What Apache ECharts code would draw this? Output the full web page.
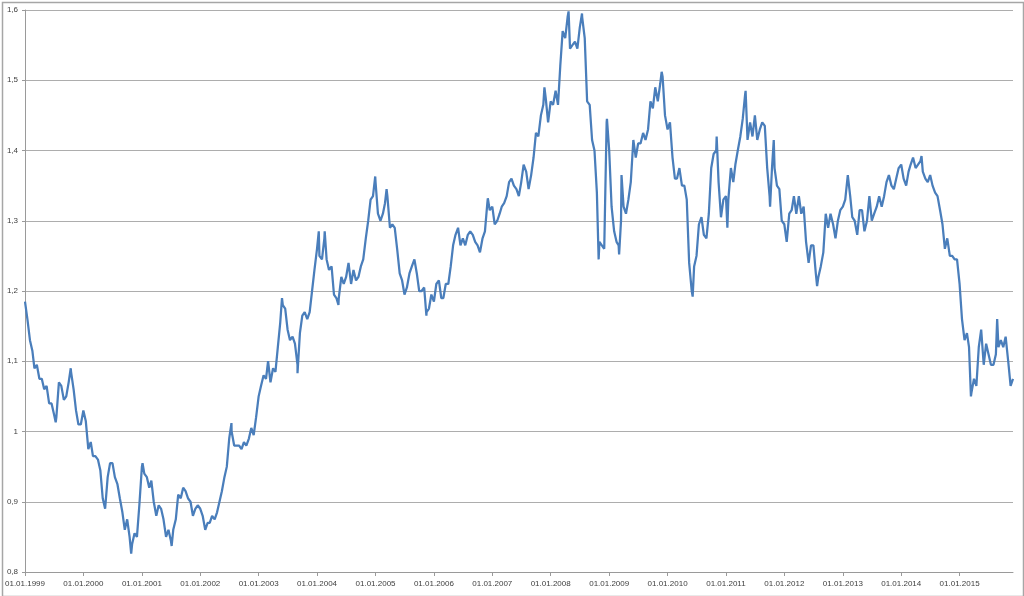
<!DOCTYPE html>
<html><head><meta charset="utf-8">
<script src="https://cdn.jsdelivr.net/npm/echarts@6/dist/echarts.min.js"></script>
<style>html,body{margin:0;padding:0;background:#fff}#c{width:1024px;height:596px}</style>
</head><body><div id="c"></div>
<script>
// EUR/USD readings, 1st and 16th of each month
const y1999 = [1.185,1.16,1.13,1.115,1.09,1.095,1.075,1.075,1.06,1.065,1.04,1.04,1.025,1.02,1.07,1.065,1.045,1.05,1.07,1.085,1.06,1.03,1.01,1.01];
const y2000 = [1.03,1.015,0.975,0.985,0.965,0.965,0.96,0.945,0.905,0.89,0.935,0.955,0.955,0.935,0.925,0.905,0.885,0.86,0.875,0.85,0.84,0.855,0.85,0.895];
const y2001 = [0.95,0.94,0.935,0.92,0.93,0.90,0.88,0.895,0.89,0.875,0.85,0.86,0.845,0.86,0.875,0.91,0.905,0.92,0.915,0.905,0.90,0.88,0.89,0.895];
const y2002 = [0.89,0.88,0.86,0.87,0.87,0.88,0.875,0.885,0.90,0.915,0.935,0.95,0.99,1.00,0.98,0.98,0.98,0.975,0.985,0.98,0.99,1.005,0.995,1.02];
const y2003 = [1.05,1.065,1.08,1.075,1.10,1.07,1.09,1.085,1.12,1.155,1.18,1.175,1.145,1.13,1.135,1.125,1.095,1.14,1.165,1.17,1.16,1.17,1.20,1.23];
const y2004 = [1.26,1.25,1.245,1.275,1.245,1.23,1.235,1.195,1.19,1.19,1.22,1.21,1.22,1.24,1.21,1.23,1.215,1.22,1.235,1.245,1.275,1.30,1.33,1.335];
const y2005 = [1.355,1.31,1.30,1.31,1.325,1.335,1.29,1.295,1.29,1.26,1.225,1.215,1.195,1.205,1.225,1.235,1.245,1.225,1.20,1.20,1.205,1.17,1.175,1.195];
const y2006 = [1.185,1.21,1.215,1.19,1.19,1.21,1.21,1.235,1.265,1.28,1.29,1.265,1.275,1.265,1.28,1.285,1.28,1.27,1.265,1.255,1.275,1.285,1.325,1.315];
const y2007 = [1.32,1.295,1.30,1.31,1.32,1.325,1.335,1.355,1.36,1.35,1.345,1.335,1.355,1.38,1.37,1.345,1.365,1.39,1.425,1.42,1.45,1.465,1.475,1.44];
const y2008 = [1.47,1.465,1.485,1.465,1.52,1.57,1.56,1.59,1.545,1.55,1.555,1.545,1.575,1.59,1.56,1.47,1.465,1.415,1.40,1.34,1.27,1.265,1.26,1.44];
const y2009 = [1.40,1.32,1.285,1.27,1.265,1.30,1.32,1.31,1.33,1.355,1.415,1.39,1.41,1.41,1.425,1.415,1.43,1.47,1.46,1.49,1.47,1.495,1.505,1.45];
const y2010 = [1.43,1.44,1.39,1.36,1.36,1.375,1.35,1.35,1.33,1.24,1.20,1.235,1.25,1.295,1.305,1.28,1.275,1.31,1.375,1.395,1.40,1.355,1.305,1.33];
const y2011 = [1.335,1.33,1.375,1.355,1.38,1.40,1.42,1.445,1.48,1.415,1.44,1.42,1.45,1.415,1.43,1.44,1.435,1.375,1.335,1.375,1.375,1.35,1.345,1.30];
const y2012 = [1.295,1.27,1.31,1.315,1.335,1.31,1.335,1.31,1.32,1.27,1.24,1.265,1.265,1.225,1.22,1.235,1.255,1.31,1.29,1.31,1.295,1.275,1.30,1.315];
const y2013 = [1.32,1.33,1.365,1.335,1.305,1.30,1.28,1.315,1.315,1.285,1.30,1.335,1.30,1.31,1.32,1.335,1.32,1.335,1.355,1.365,1.35,1.345,1.36,1.375];
const y2014 = [1.38,1.36,1.35,1.37,1.38,1.39,1.375,1.38,1.385,1.37,1.36,1.355,1.365,1.35,1.34,1.335,1.315,1.295,1.26,1.275,1.25,1.25,1.245,1.245];
const y2015 = [1.21,1.16,1.13,1.14,1.12,1.055,1.075,1.065,1.12,1.145,1.095,1.125,1.11,1.095,1.095,1.11,1.12,1.13,1.12,1.135,1.10,1.065,1.075];

// visible local peaks and troughs
const extremeDates = ['1999-07-12','1999-10-14','2000-05-18','2000-10-26','2001-01-05','2001-07-06','2002-07-15','2003-05-27','2003-09-01','2004-01-12','2004-02-18','2004-05-14','2004-12-30','2005-03-11','2005-11-15','2006-12-04','2007-11-23','2008-04-22','2008-07-15','2008-10-27','2008-12-18','2009-03-04','2009-03-19','2009-11-25','2010-06-07','2010-11-04','2011-01-10','2011-05-04','2011-10-04','2011-10-27','2012-07-24','2014-05-08','2015-03-13','2015-08-24'];
const extremeValues = [1.013,1.09,0.888,0.826,0.955,0.837,1.012,1.19,1.083,1.285,1.285,1.18,1.363,1.345,1.165,1.332,1.49,1.598,1.595,1.245,1.445,1.252,1.365,1.512,1.192,1.42,1.29,1.485,1.32,1.415,1.207,1.392,1.05,1.16];

const yTickLabels = ['0,8','0,9','1','1,1','1,2','1,3','1,4','1,5','1,6'];

const years = {1999:y1999,2000:y2000,2001:y2001,2002:y2002,2003:y2003,2004:y2004,2005:y2005,2006:y2006,2007:y2007,2008:y2008,2009:y2009,2010:y2010,2011:y2011,2012:y2012,2013:y2013,2014:y2014,2015:y2015};
const data = [];
Object.keys(years).forEach(y => {
  years[y].forEach((v, i) => {
    data.push([new Date(+y, Math.floor(i / 2), i % 2 ? 16 : 1).getTime(), v]);
  });
});
extremeDates.forEach((s, i) => {
  const p = s.split('-').map(Number);
  data.push([new Date(p[0], p[1] - 1, p[2]).getTime(), extremeValues[i]]);
});
data.sort((a, b) => a[0] - b[0]);

const pad = n => (n < 10 ? '0' : '') + n;
const YEAR = 365 * 24 * 3600 * 1000;
const chart = echarts.init(document.getElementById('c'), null, {renderer: 'canvas'});
chart.setOption({
  animation: false,
  backgroundColor: '#ffffff',
  grid: {left: 25, right: 11, top: 10, bottom: 24, containLabel: false},
  xAxis: {
    type: 'time',
    min: new Date(1999, 0, 1).getTime(),
    max: new Date(2015, 11, 1).getTime(),
    minInterval: YEAR,
    maxInterval: YEAR + 86400000,
    splitLine: {show: false},
    axisLine: {lineStyle: {color: '#9a9a9a', width: 1}},
    axisTick: {show: true, length: 4, lineStyle: {color: '#9a9a9a'}},
    axisLabel: {
      color: '#404040', fontSize: 8, fontFamily: 'Liberation Sans', margin: 8, hideOverlap: false,
      showMinLabel: true, showMaxLabel: false,
      formatter: v => { const d = new Date(v); return pad(d.getDate()) + '.' + pad(d.getMonth() + 1) + '.' + d.getFullYear(); }
    }
  },
  yAxis: {
    type: 'value', min: 0.8, max: 1.6, interval: 0.1,
    axisLine: {show: true, lineStyle: {color: '#9a9a9a', width: 1}},
    axisTick: {show: true, length: 3, lineStyle: {color: '#9a9a9a'}},
    splitLine: {show: true, lineStyle: {color: '#adadad', width: 1}},
    axisLabel: {
      color: '#404040', fontSize: 8, fontFamily: 'Liberation Sans', margin: 7,
      formatter: v => yTickLabels[Math.round((v - 0.8) * 10)]
    }
  },
  series: [{
    type: 'line', data: data, showSymbol: false, symbol: 'none',
    lineStyle: {color: '#4a7ebb', width: 2.25}, itemStyle: {color: '#4a7ebb'}
  }],
  graphic: [{
    type: 'rect', left: 0, top: 0, silent: true,
    shape: {x: 0.75, y: 0.75, width: 1021, height: 594},
    style: {fill: 'none', stroke: '#a6a6a6', lineWidth: 1.5}
  }]
});
</script></body></html>
